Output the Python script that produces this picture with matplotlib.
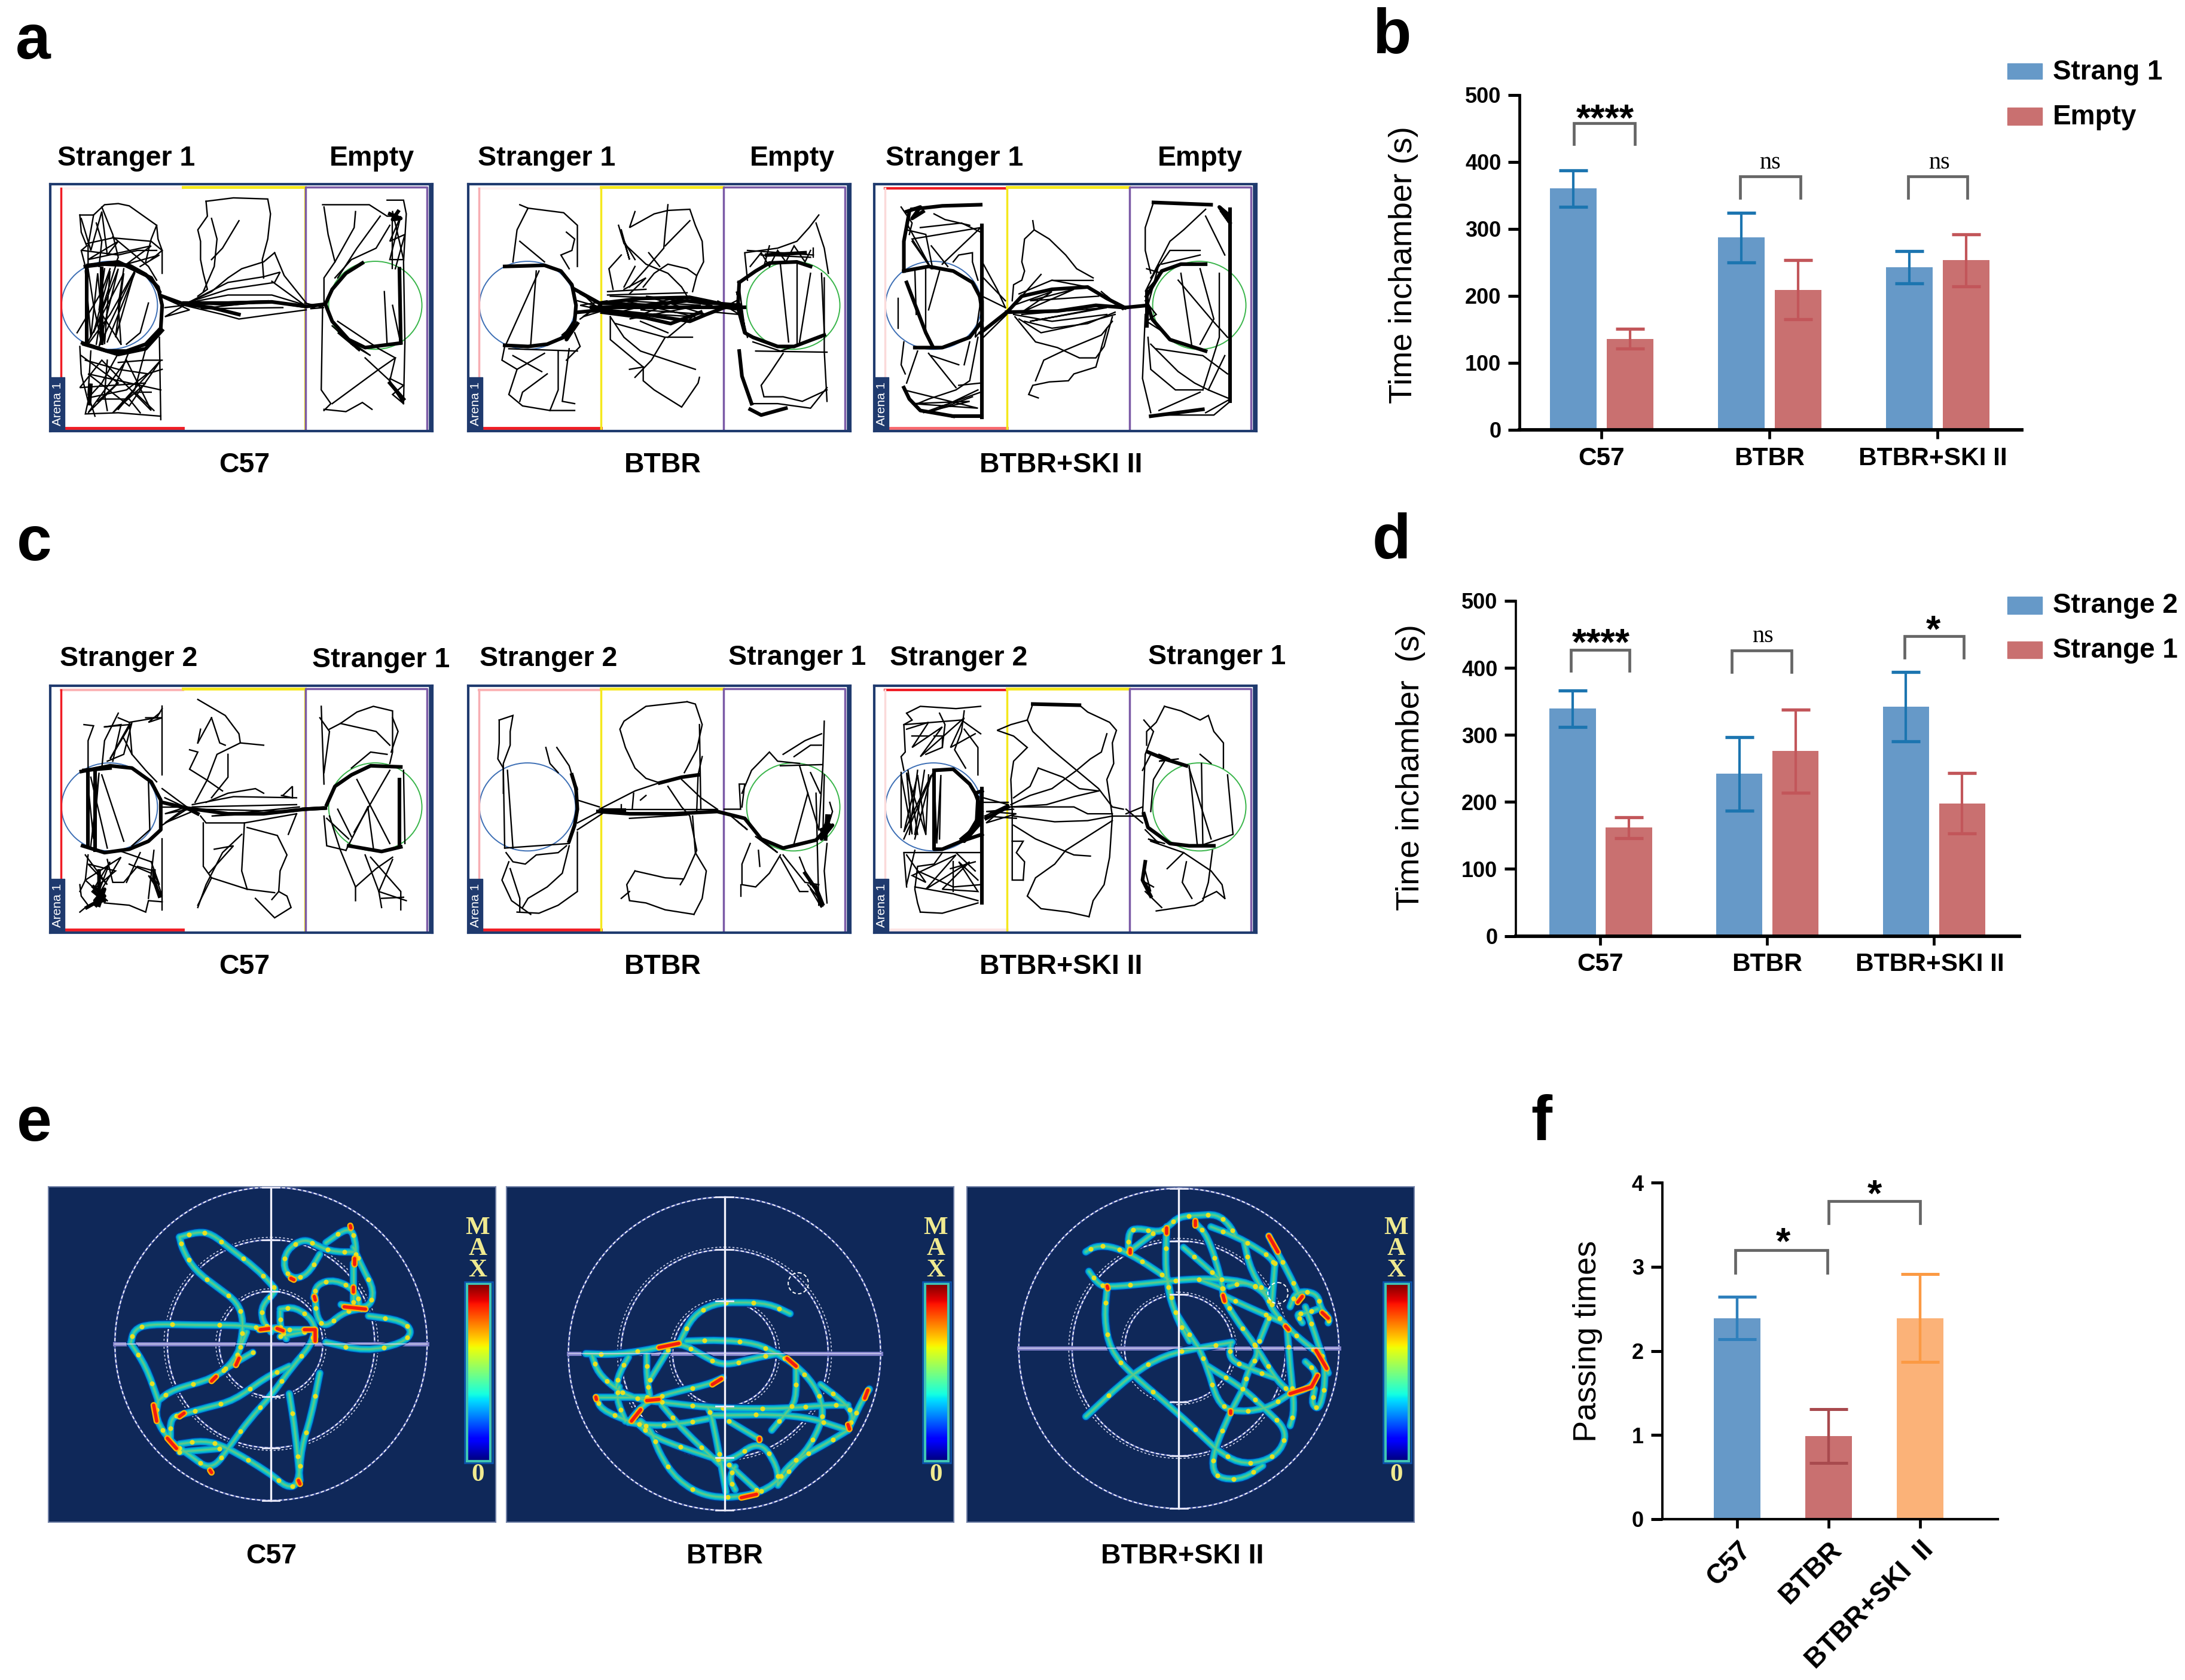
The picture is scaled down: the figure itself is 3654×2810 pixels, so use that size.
"""Three chamber tracks, zero maze heat paths and the bar panels next to them."""
import numpy as np
import matplotlib
matplotlib.use("Agg")
import matplotlib.pyplot as plt
from matplotlib.patches import Ellipse, PathPatch, Rectangle
from matplotlib.path import Path
from matplotlib.transforms import ScaledTranslation

plt.rcParams["font.family"] = ["Liberation Sans", "DejaVu Sans"]

W, H = 3655, 2810

# ---- bar panels
GROUPS = ["C57", "BTBR", "BTBR+SKI II"]
B_BLUE = [360, 287, 243]
B_BLUE_ERR = [27, 37, 24]
B_RED = [136, 209, 253]
B_RED_ERR = [15, 44, 39]
D_BLUE = [339, 242, 342]
D_BLUE_ERR = [27, 55, 52]
D_RED = [161.5, 276, 198]
D_RED_ERR = [16, 62, 45]
F_LABELS = ["C57", "BTBR", "BTBR+SKI  II"]
F_VALUES = [2.39, 0.99, 2.39]
F_ERR = [0.25, 0.32, 0.52]
B_TICKS = [0, 100, 200, 300, 400, 500]
F_TICKS = [0, 1, 2, 3, 4]

# ---- track panels, in arena units (frame is 52..1445 by 230..1310)
A1_THICK = [
    [(180, 590), (250, 580), (340, 585), (400, 625), (445, 680), (460, 760), (455, 860), (400, 930), (330, 960), (260, 960), (170, 925)],
    [(175, 930), (300, 975), (400, 950), (460, 870)], [(190, 585), (300, 570), (420, 640), (450, 700)],
    [(185, 590), (185, 930)], [(240, 600), (240, 925)],
    [(460, 720), (540, 755), (640, 770), (740, 800)], [(540, 750), (700, 750), (860, 745), (985, 765), (1055, 755)],
    [(1055, 755), (1080, 690), (1130, 620), (1190, 575)],
    [(1055, 755), (1080, 830), (1140, 910), (1200, 945), (1330, 925)],
    [(1325, 600), (1330, 920)], [(1290, 1100), (1340, 1170)], [(1290, 360), (1330, 380), (1300, 385), (1320, 350)],
    [(200, 1110), (195, 1190)],
]
A1_THIN = [
    [(160, 365), (210, 365), (250, 320), (300, 315), (340, 325), (440, 410), (445, 470), (460, 520), (460, 620)],
    [(160, 365), (165, 440), (185, 500), (165, 520), (180, 590)], [(210, 365), (190, 500), (190, 590)],
    [(240, 330), (280, 450), (300, 550), (290, 580)], [(185, 490), (280, 465), (420, 480), (460, 520), (420, 560)],
    [(170, 520), (300, 540), (370, 520), (440, 520)], [(280, 460), (340, 520), (410, 590), (440, 650)],
    [(220, 400), (240, 480), (230, 590)], [(440, 410), (420, 470), (400, 570)],
    [(190, 600), (210, 760), (240, 930)], [(250, 600), (230, 780), (310, 930)], [(360, 610), (270, 800), (190, 930)],
    [(290, 590), (240, 780), (220, 930)], [(320, 600), (300, 760), (310, 930)], [(360, 620), (260, 920)],
    [(410, 750), (380, 880), (330, 930)], [(150, 880), (240, 700), (270, 600)],
    [(160, 940), (165, 1060), (190, 1180), (180, 1235), (300, 1230), (455, 1245)], [(200, 960), (190, 1150), (215, 1245)],
    [(300, 970), (240, 1100), (190, 1165)], [(340, 960), (290, 1110), (225, 1180)], [(400, 950), (360, 1130), (300, 1215)],
    [(450, 900), (455, 1260)], [(460, 1040), (405, 1060), (330, 1130), (190, 1165)], [(260, 1000), (250, 1150), (260, 1220)],
    [(180, 1000), (300, 1040), (410, 1060)], [(420, 1140), (360, 1140), (430, 1220)], [(300, 1010), (400, 1000), (460, 1000)],
    [(240, 1170), (340, 1170), (380, 1230)],
    [(620, 305), (720, 290), (845, 295), (855, 360), (845, 470), (825, 560), (830, 640)],
    [(620, 305), (625, 370), (590, 430), (600, 480), (600, 560), (610, 620), (625, 690), (590, 720)],
    [(640, 380), (660, 470), (650, 590), (610, 700)], [(740, 390), (680, 510), (640, 560)],
    [(870, 530), (830, 570), (750, 600), (700, 640), (640, 700), (570, 740)], [(870, 530), (905, 630), (985, 750)],
    [(560, 745), (700, 660), (830, 635), (890, 615), (870, 660), (700, 690), (560, 745)],
    [(550, 750), (700, 715), (860, 715), (985, 760)], [(540, 760), (680, 800), (740, 820), (860, 800), (985, 780)],
    [(560, 750), (700, 760), (850, 745), (985, 770)], [(860, 655), (980, 760)],
    [(1045, 320), (1070, 320), (1215, 320), (1280, 370), (1310, 370)],
    [(1050, 330), (1065, 450), (1090, 570), (1050, 640), (1050, 750)], [(1045, 760), (1040, 1130), (1075, 1190), (1050, 1220)],
    [(1280, 300), (1340, 300), (1350, 360), (1340, 570), (1345, 920), (1340, 1190)], [(1165, 350), (1160, 420), (1090, 570)],
    [(1255, 370), (1170, 510), (1100, 640)], [(1290, 410), (1240, 510), (1150, 560), (1090, 640)], [(1300, 360), (1300, 600)],
    [(1270, 700), (1280, 930)], [(1300, 760), (1330, 930)], [(1080, 1190), (1250, 1040), (1310, 990), (1250, 950), (1100, 830)],
    [(1200, 990), (1290, 1090), (1340, 1190)], [(1050, 1215), (1130, 1225), (1190, 1185), (1225, 1215)], [(1310, 990), (1290, 1090)],
    [(165, 980), (300, 1100), (190, 1230), (330, 1000), (420, 1220), (240, 1000), (160, 1120), (400, 1100), (280, 1230), (455, 1000), (340, 1200), (190, 1060), (455, 1130)],
    [(180, 610), (200, 900), (225, 620), (250, 930), (270, 610), (210, 880), (300, 600), (230, 940), (360, 610), (290, 900), (320, 620), (190, 920)],
    [(165, 380), (200, 520), (240, 350), (260, 540), (300, 480), (190, 560), (420, 500), (330, 580), (450, 540), (380, 590)],
    [(1300, 350), (1340, 560), (1290, 560), (1330, 370), (1290, 480), (1345, 450), (1310, 600)],
    [(1080, 850), (1180, 960), (1100, 880), (1220, 980), (1150, 930)], [(1290, 1080), (1340, 1110), (1300, 1150), (1340, 1190), (1290, 1100)],
    [(470, 730), (560, 780), (470, 810), (540, 760), (470, 770)], [(980, 750), (1050, 770), (1000, 775), (1060, 745)],
    [(590, 750), (850, 740), (600, 775), (900, 770)],
]
A2_THICK = [
    [(185, 590), (330, 585), (390, 610), (430, 670), (445, 760), (440, 830), (400, 900), (340, 930), (270, 940), (185, 935)],
    [(440, 690), (530, 750), (700, 760), (850, 740), (1040, 760)],
    [(455, 790), (540, 780), (700, 800), (860, 830), (920, 800), (985, 770), (1040, 760)],
    [(540, 750), (680, 730), (860, 725), (940, 745), (1040, 770)], [(540, 790), (700, 815), (790, 840), (900, 790)],
    [(500, 770), (1060, 770)],
    [(1040, 660), (1035, 770), (1060, 880), (1090, 900), (1180, 940), (1240, 940), (1350, 890)],
    [(1040, 660), (1100, 610), (1150, 575), (1250, 570), (1300, 590)], [(1040, 960), (1050, 1070), (1085, 1190)],
    [(1080, 1215), (1120, 1240), (1210, 1210)], [(1140, 540), (1280, 530)], [(400, 890), (440, 850), (410, 910), (450, 840)],
]
A2_THIN = [
    [(240, 320), (270, 335), (400, 355), (450, 410), (450, 590)], [(270, 335), (230, 430), (215, 570)], [(240, 480), (330, 570)],
    [(410, 440), (440, 470), (430, 520), (390, 540), (420, 600)], [(300, 610), (280, 930)], [(310, 610), (190, 930)],
    [(185, 940), (175, 1000), (230, 1040), (200, 1150), (250, 1200), (350, 1220), (440, 1220)], [(215, 980), (320, 1050)],
    [(340, 1060), (250, 1140), (240, 1180)], [(380, 960), (380, 1130), (350, 1220)], [(420, 950), (395, 1180), (440, 1190)],
    [(200, 950), (450, 960)], [(330, 970), (230, 1040)], [(440, 880), (460, 940), (410, 1000)],
    [(660, 350), (640, 420), (730, 360), (780, 345), (860, 340), (880, 410), (905, 480), (910, 570), (885, 630), (870, 700)],
    [(780, 320), (770, 440), (765, 510), (700, 600), (640, 680)], [(860, 390), (770, 500)],
    [(600, 410), (620, 490), (700, 580), (780, 620), (830, 680), (850, 720)], [(610, 540), (565, 600), (580, 690)],
    [(660, 590), (620, 680)], [(710, 530), (750, 590)], [(690, 680), (730, 620), (780, 580), (850, 600), (885, 630)],
    [(560, 715), (850, 705)], [(570, 810), (570, 910), (620, 960), (690, 1030)],
    [(570, 810), (620, 900), (680, 960), (830, 1020), (880, 1040)], [(590, 840), (770, 900), (720, 1000), (660, 1075)],
    [(640, 1040), (690, 1030), (690, 1090), (730, 1130), (830, 1205), (890, 1100), (895, 1075)], [(770, 900), (870, 900)],
    [(680, 830), (780, 880)], [(880, 800), (780, 900)], [(460, 700), (540, 790)], [(460, 820), (540, 750)], [(450, 740), (540, 770)],
    [(1330, 365), (1295, 420), (1250, 480), (1180, 510), (1060, 530), (1070, 650)], [(1320, 400), (1350, 510), (1365, 620)],
    [(1120, 540), (1300, 550)], [(1070, 520), (1310, 540)], [(1150, 500), (1130, 590)], [(1190, 580), (1220, 920)],
    [(1250, 580), (1250, 930)], [(1300, 620), (1260, 920)], [(1340, 620), (1350, 880)], [(1350, 640), (1350, 960), (1360, 1180)],
    [(1200, 970), (1150, 1060), (1120, 1110), (1130, 1160), (1200, 1160), (1270, 1180), (1360, 1130)],
    [(1085, 1190), (1180, 1190), (1300, 1210), (1360, 1120)], [(1100, 960), (1360, 965)], [(1310, 510), (1310, 550)],
    [(460, 710), (580, 790), (460, 760), (560, 740), (470, 810), (580, 770)],
    [(570, 720), (800, 730), (600, 790), (880, 810), (620, 740), (900, 760), (640, 820), (860, 720), (680, 780), (920, 800), (700, 720), (940, 760)],
    [(920, 760), (1030, 780), (960, 740), (1040, 800), (950, 790), (1030, 740)], [(1040, 680), (1060, 860), (1030, 700), (1070, 900)],
    [(1080, 590), (1120, 530), (1150, 590), (1180, 520), (1210, 570), (1240, 500), (1280, 570), (1300, 520)], [(1090, 920), (1190, 960), (1340, 900)],
    [(610, 430), (640, 560), (620, 480), (660, 560)], [(620, 690), (700, 640), (640, 710)], [(560, 700), (700, 690)],
]
A3_THICK = [
    [(160, 610), (250, 590), (340, 610), (410, 660), (445, 740), (445, 830), (400, 900), (300, 945), (200, 945)],
    [(445, 410), (445, 1250)], [(170, 660), (240, 880), (265, 940)], [(180, 350), (160, 480), (160, 610)],
    [(190, 340), (300, 325), (440, 320)], [(440, 880), (540, 785), (590, 720), (700, 690), (830, 680), (900, 730), (965, 770)],
    [(535, 790), (720, 785), (860, 760), (965, 770)], [(340, 1245), (445, 1245)], [(160, 1120), (180, 1170), (220, 1220), (340, 1245)],
    [(965, 770), (1050, 760), (1065, 820), (1130, 910), (1260, 960)], [(1045, 720), (1100, 610), (1170, 580), (1260, 580)],
    [(1070, 310), (1280, 320)], [(1060, 1245), (1250, 1215)], [(1350, 340), (1350, 1180)], [(1045, 700), (1045, 850)],
    [(170, 350), (220, 330), (190, 380), (230, 350)], [(1340, 360), (1310, 330), (1350, 400), (1320, 350)],
]
A3_THIN = [
    [(150, 330), (190, 400), (180, 450)], [(200, 600), (205, 800)], [(240, 600), (240, 880)], [(290, 610), (250, 780)],
    [(140, 730), (140, 860)], [(170, 430), (240, 450), (265, 600)], [(220, 420), (370, 400), (440, 440)],
    [(270, 360), (310, 385), (400, 410)], [(340, 570), (360, 540), (410, 530), (410, 570), (430, 650)], [(260, 500), (320, 590)],
    [(190, 480), (260, 600)], [(450, 580), (500, 690), (530, 770)], [(450, 640), (530, 740)], [(445, 720), (530, 770)],
    [(450, 900), (535, 800)], [(160, 920), (150, 1020), (165, 1060)], [(210, 960), (170, 1100)], [(250, 970), (350, 1120)],
    [(260, 980), (360, 1020)], [(400, 920), (380, 1020)], [(430, 900), (400, 1090), (350, 1130), (250, 1170), (210, 1190)],
    [(440, 1100), (360, 1110)], [(430, 1130), (290, 1210)], [(410, 1160), (250, 1230)],
    [(630, 390), (635, 430), (600, 470), (590, 570), (600, 610), (590, 650), (560, 670), (555, 740)],
    [(635, 430), (690, 470), (750, 540), (790, 600), (850, 640)], [(660, 625), (590, 720)], [(700, 650), (850, 650)],
    [(580, 710), (700, 650), (830, 680), (880, 720)], [(565, 810), (640, 920), (720, 945), (800, 990), (860, 990), (890, 940), (920, 810)],
    [(580, 820), (660, 880), (780, 850), (930, 800)], [(600, 830), (700, 860), (830, 840), (930, 790)],
    [(560, 800), (700, 830), (900, 800)], [(900, 860), (860, 1030), (780, 1060), (760, 1090), (690, 1095), (630, 1110), (615, 1150), (650, 1165)],
    [(920, 830), (880, 890), (740, 960), (670, 1000), (640, 1090)],
    [(1070, 310), (1040, 420), (1040, 520), (1060, 620)], [(1260, 340), (1180, 430), (1130, 480), (1070, 620)], [(1260, 370), (1330, 540)],
    [(1240, 520), (1130, 520), (1060, 640)], [(1100, 580), (1240, 540)], [(1170, 620), (1210, 940)], [(1240, 600), (1290, 820), (1240, 930)],
    [(1160, 650), (1280, 820), (1340, 900)], [(1310, 620), (1310, 900), (1250, 1130)], [(1050, 900), (1060, 1040), (1150, 1130), (1250, 1130)],
    [(1060, 930), (1160, 1050), (1220, 1100), (1270, 1130)], [(1040, 800), (1030, 1080), (1060, 1230)], [(1080, 950), (1250, 980), (1340, 1060)],
    [(1330, 980), (1270, 1130), (1350, 1170), (1260, 1230)], [(1060, 1240), (1290, 1240), (1350, 1180)], [(1090, 1220), (1240, 1140)],
    [(170, 400), (260, 600), (190, 470), (440, 420), (300, 580)], [(430, 700), (450, 860), (420, 900), (440, 740)],
    [(1045, 600), (1100, 620), (1040, 700), (1090, 580), (1050, 760)], [(1040, 740), (1080, 800), (1045, 830), (1110, 880)],
    [(560, 760), (700, 700), (590, 790), (780, 690), (620, 740), (870, 720)], [(590, 800), (900, 770), (620, 830), (930, 760)], [(900, 720), (960, 780), (880, 700)],
    [(160, 1130), (430, 1210), (190, 1190), (400, 1180), (230, 1230), (440, 1140)],
]
C1_THICK = [
    [(165, 605), (270, 580), (350, 590), (420, 650), (455, 730), (455, 860), (410, 910), (340, 945), (250, 960), (170, 930)],
    [(190, 600), (190, 930)], [(215, 600), (215, 950)], [(550, 765), (700, 790), (830, 790), (980, 770), (1055, 765)],
    [(460, 740), (550, 765), (590, 790)], [(1060, 750), (1090, 670), (1150, 620), (1220, 580), (1330, 585)],
    [(1140, 930), (1260, 955), (1330, 935)], [(1325, 640), (1325, 930)], [(230, 1040), (230, 1170), (185, 1200)],
    [(210, 1110), (250, 1150), (220, 1190)], [(430, 1040), (430, 1080), (450, 1150)], [(975, 770), (1050, 765)],
    [(210, 1130), (250, 1170), (215, 1170), (250, 1120), (230, 1190)], [(175, 600), (270, 590)],
]
C1_THIN = [
    [(175, 400), (210, 405), (190, 470), (190, 590)], [(300, 350), (250, 470), (240, 590)], [(300, 370), (340, 390), (440, 370), (460, 330)],
    [(460, 320), (460, 620)], [(250, 410), (310, 400), (280, 560)], [(340, 390), (350, 530), (400, 600), (440, 650)], [(320, 460), (350, 530)],
    [(240, 620), (320, 910)], [(200, 630), (260, 940)], [(410, 650), (415, 860), (350, 930)], [(160, 1100), (165, 1150), (190, 1190), (160, 1220)],
    [(190, 970), (180, 1080), (160, 1130)], [(260, 990), (280, 1090), (320, 1090), (370, 1020), (430, 1040)], [(340, 1010), (420, 1050)],
    [(300, 950), (420, 1000)], [(460, 900), (460, 1210)], [(250, 1180), (340, 1190), (400, 1220), (410, 1170), (460, 1175)], [(430, 950), (410, 1160)],
    [(380, 960), (330, 1090)],
    [(590, 290), (640, 325), (690, 360), (740, 440), (745, 480), (830, 490)], [(640, 370), (670, 480), (690, 490)], [(640, 370), (590, 480)],
    [(600, 420), (590, 480)], [(560, 510), (590, 520), (560, 595), (620, 640), (680, 690)], [(745, 480), (660, 530), (625, 640), (580, 740)],
    [(700, 530), (700, 630), (640, 720)], [(620, 740), (700, 700), (800, 680), (830, 700)], [(900, 710), (935, 670), (935, 720), (895, 710)],
    [(460, 680), (550, 760)], [(460, 840), (550, 770)], [(460, 760), (550, 760)], [(570, 750), (720, 715), (950, 720)],
    [(600, 800), (620, 830), (760, 830), (950, 790)], [(610, 830), (610, 1020), (640, 1070), (770, 1120), (870, 1135)],
    [(760, 830), (750, 1040), (770, 1120)], [(770, 850), (880, 885), (915, 970), (890, 1040), (885, 1130), (860, 1165)],
    [(750, 880), (680, 960), (620, 1100), (590, 1200)], [(650, 945), (720, 930), (630, 1050)], [(640, 1070), (590, 1190)],
    [(800, 1160), (870, 1245), (930, 1200), (915, 1150), (885, 1130)], [(950, 790), (920, 880)], [(570, 760), (950, 750)],
    [(1040, 320), (1050, 660)], [(1035, 370), (1070, 430), (1050, 610)], [(1070, 420), (1110, 395), (1170, 345), (1230, 320), (1300, 340), (1300, 520), (1290, 570)],
    [(1110, 395), (1240, 430), (1290, 490)], [(1300, 370), (1320, 430), (1295, 520)], [(1150, 590), (1220, 520), (1280, 530)],
    [(1290, 600), (1160, 870)], [(1170, 640), (1290, 920)], [(1210, 760), (1230, 940)], [(1210, 760), (1130, 950)],
    [(1050, 800), (1060, 930), (1130, 950)], [(1060, 810), (1140, 900)], [(1100, 770), (1150, 890)],
    [(1070, 800), (1110, 950), (1165, 1110), (1165, 1170)], [(1165, 1110), (1240, 1030), (1300, 980)], [(1200, 970), (1250, 1130), (1260, 1200)],
    [(1300, 990), (1250, 1130), (1350, 1170)], [(1220, 980), (1330, 1130), (1330, 1210)], [(1260, 1160), (1340, 1155)], [(1340, 600), (1345, 920)],
    [(180, 970), (260, 1100), (190, 1010), (290, 1040), (210, 1120), (270, 1000), (220, 1160), (310, 980), (180, 1080), (260, 1170)],
    [(185, 610), (210, 900), (230, 610), (200, 930)], [(250, 410), (340, 400), (270, 550), (350, 390), (320, 530), (260, 560)],
    [(400, 370), (460, 370), (410, 390), (450, 350)], [(420, 1000), (450, 1100), (410, 1060), (460, 1150), (430, 1040)],
    [(470, 720), (560, 770), (470, 790), (550, 760), (470, 830), (590, 770)], [(600, 770), (940, 780), (640, 800), (960, 760)],
]
C2_THICK = [
    [(445, 680), (450, 770), (440, 840), (420, 910)], [(430, 620), (445, 680)],
    [(525, 780), (640, 790), (800, 790), (960, 780), (1060, 810), (1120, 900), (1200, 940), (1320, 905), (1370, 840)],
    [(540, 775), (620, 775)], [(750, 655), (830, 630), (890, 620)], [(1360, 800), (1355, 900)], [(1280, 1050), (1320, 1120), (1340, 1190)],
    [(1340, 860), (1380, 840), (1340, 900), (1370, 800), (1340, 880)],
]
C2_THIN = [
    [(165, 380), (215, 360), (205, 430), (205, 490), (180, 570), (180, 700)], [(165, 380), (165, 480), (160, 550), (180, 590)],
    [(180, 590), (185, 940)], [(195, 600), (215, 940)], [(185, 940), (420, 920)], [(335, 500), (350, 570), (380, 610)],
    [(375, 500), (420, 580), (430, 620)], [(450, 730), (530, 760)], [(450, 830), (530, 780)], [(450, 860), (540, 790)],
    [(420, 930), (395, 1050), (340, 1110), (270, 1160), (250, 1200)], [(190, 960), (215, 1000), (260, 1010), (300, 970), (380, 960), (410, 930)],
    [(450, 870), (450, 1130), (380, 1190), (310, 1225), (230, 1220)], [(200, 1000), (175, 1080), (210, 1170), (280, 1230)], [(205, 1030), (240, 1160), (240, 1220)],
    [(530, 770), (660, 690), (760, 650)], [(850, 300), (700, 320), (620, 385), (605, 420), (625, 500), (660, 590), (700, 635), (750, 655)],
    [(850, 300), (880, 310), (905, 400), (885, 510), (840, 610)], [(895, 400), (900, 770)], [(905, 540), (890, 620), (885, 780)],
    [(830, 640), (900, 720), (960, 770)], [(780, 670), (830, 760), (860, 800), (885, 950), (840, 1070), (825, 1100)],
    [(870, 800), (880, 960), (920, 1040), (905, 1160), (875, 1230)], [(660, 1040), (770, 1070), (835, 1075)],
    [(660, 1040), (630, 1100), (640, 1170), (700, 1180), (770, 1210), (875, 1230)], [(610, 1160), (640, 1130)], [(680, 730), (700, 710)],
    [(655, 700), (650, 770)], [(610, 750), (610, 790)], [(620, 770), (960, 770)], [(640, 810), (850, 795)],
    [(985, 770), (1045, 770), (1040, 660), (1060, 660), (1050, 760)], [(1050, 700), (1085, 600), (1150, 520), (1180, 560), (1260, 570)],
    [(1190, 580), (1340, 575)], [(1200, 530), (1280, 470), (1340, 440)], [(1240, 540), (1300, 490), (1340, 490)],
    [(1350, 385), (1345, 580), (1330, 860)], [(1260, 580), (1310, 780), (1330, 860)], [(1290, 700), (1240, 920)], [(1300, 610), (1335, 700)],
    [(1350, 620), (1345, 880)], [(1370, 740), (1380, 780), (1360, 860)], [(1320, 700), (1330, 1190)], [(1360, 920), (1350, 1040), (1360, 1180)],
    [(1110, 950), (1115, 1020)], [(1080, 920), (1050, 1010), (1050, 1100), (1100, 1110), (1150, 1050), (1190, 970)], [(1045, 1100), (1045, 1150)],
    [(1190, 980), (1260, 1130), (1290, 1130)], [(1200, 970), (1280, 1090), (1330, 1100)], [(1260, 980), (1300, 1100)],
    [(1290, 1100), (1350, 1190), (1320, 1100), (1340, 1200), (1300, 1120)], [(1100, 890), (1180, 960), (1120, 900)], [(1010, 800), (1070, 860), (1030, 820)],
]
C3_THICK = [
    [(270, 600), (340, 595), (400, 660), (430, 720), (435, 830), (390, 900), (300, 945), (270, 945), (270, 610)],
    [(445, 680), (445, 1180)], [(430, 720), (425, 830)], [(370, 910), (445, 880)], [(630, 310), (800, 315)], [(460, 810), (540, 760)],
    [(1035, 790), (1050, 850), (1130, 920), (1200, 930), (1290, 930)], [(1040, 1000), (1030, 1080), (1060, 1150)], [(1050, 520), (1110, 550), (1190, 580)],
    [(370, 900), (440, 830), (380, 910), (445, 780), (420, 700), (445, 690)],
]
C3_THIN = [
    [(170, 350), (220, 320), (350, 330), (440, 320)], [(170, 350), (190, 380), (160, 400), (165, 520), (150, 540), (160, 600)],
    [(160, 400), (370, 380), (440, 440)], [(190, 450), (250, 450)], [(270, 450), (300, 450), (300, 500)],
    [(290, 350), (310, 400), (300, 500), (240, 530)], [(380, 340), (370, 430), (345, 510), (385, 590)], [(380, 420), (430, 500), (430, 620)],
    [(150, 610), (150, 850)], [(175, 600), (210, 880)], [(210, 600), (180, 880)], [(235, 600), (200, 880)], [(250, 620), (240, 880)], [(270, 600), (160, 900)],
    [(160, 960), (170, 1110)], [(200, 950), (170, 1100)], [(300, 960), (270, 1010), (210, 1020), (200, 1120), (210, 1180), (220, 1220)],
    [(210, 1040), (340, 1110), (440, 1100)], [(200, 1110), (340, 1140), (430, 1170)], [(350, 960), (420, 1040)], [(330, 1030), (420, 1000)],
    [(160, 960), (440, 960)], [(220, 1220), (300, 1225), (430, 1180)], [(340, 1000), (340, 1130)],
    [(450, 720), (540, 750)], [(450, 740), (540, 740)], [(455, 800), (570, 810)],
    [(630, 310), (610, 380), (550, 400), (500, 425), (560, 450), (610, 500), (560, 560), (550, 640), (555, 780), (555, 1080), (595, 1080)],
    [(800, 315), (830, 345), (910, 390), (935, 425), (920, 480), (925, 570), (900, 640), (920, 800), (910, 980), (890, 1100), (850, 1170), (835, 1240)],
    [(610, 380), (630, 430), (700, 510), (790, 600), (870, 680), (920, 760), (960, 770)],
    [(900, 440), (880, 520), (840, 550), (790, 600), (700, 680), (620, 710), (550, 750)], [(650, 590), (620, 670), (560, 720)],
    [(650, 590), (740, 630), (800, 680), (870, 690)], [(550, 760), (780, 760), (830, 790), (920, 790)], [(550, 760), (680, 750), (780, 715), (870, 690)],
    [(560, 800), (710, 825), (830, 820), (920, 800)], [(560, 840), (640, 900), (780, 970), (840, 975)],
    [(920, 820), (750, 950), (710, 1010), (640, 1070), (610, 1150), (660, 1205), (760, 1220), (835, 1240)],
    [(555, 910), (595, 910), (570, 960), (600, 1000), (595, 1080)],
    [(1110, 320), (1170, 340), (1240, 380), (1270, 360), (1290, 430), (1325, 480), (1325, 590)], [(1110, 320), (1080, 390), (1045, 430), (1045, 490)],
    [(1035, 380), (1070, 430), (1040, 530), (1030, 800)], [(1030, 600), (1060, 530)], [(1110, 560), (1070, 640), (1060, 780)],
    [(1200, 580), (1230, 930)], [(1245, 570), (1250, 930)], [(1200, 590), (1280, 900)], [(1340, 620), (1360, 880), (1240, 930)], [(1240, 530), (1280, 570)],
    [(1030, 760), (970, 790)], [(970, 770), (1030, 830)], [(1060, 910), (1180, 960), (1280, 1040), (1320, 1100), (1330, 1160)], [(1180, 960), (1120, 1030)],
    [(1190, 1000), (1175, 1090), (1210, 1160)], [(1285, 950), (1270, 1090), (1250, 1170), (1220, 1190), (1080, 1215)], [(1040, 1130), (1100, 1200)],
    [(1250, 1160), (1300, 1130), (1330, 1160)], [(920, 800), (1030, 800)],
    [(150, 620), (190, 880), (170, 610), (240, 880), (210, 620), (160, 870), (260, 620), (200, 900)], [(270, 610), (280, 920), (295, 620), (290, 900)],
    [(170, 420), (250, 390), (190, 500), (300, 410), (220, 540), (380, 370), (330, 500), (420, 440)],
    [(170, 970), (240, 1090), (190, 1060), (350, 970), (240, 1120), (400, 1000), (300, 1120), (430, 1130), (360, 1000), (430, 1080)],
    [(455, 800), (540, 750), (460, 830), (570, 790), (460, 780), (560, 770)], [(1090, 530), (1130, 550), (1090, 560), (1160, 550)],
    [(1040, 1040), (1060, 1130), (1040, 1090), (1070, 1110)], [(1040, 860), (1090, 920), (1050, 900), (1110, 920)],
]

# ---- heat paths, in plot units (frame is 40..1507 by 65..1532)
E1_PATHS = [
    [(470, 285), (530, 262), (575, 270), (640, 340), (720, 420), (770, 490), (790, 520), (740, 580), (740, 650), (770, 700)],
    [(470, 285), (480, 340), (520, 430), (600, 510), (660, 570), (680, 650), (670, 760), (650, 840)],
    [(310, 750), (320, 690), (370, 665), (520, 670), (680, 670), (760, 690), (900, 690)], [(310, 750), (360, 850), (400, 1000)],
    [(400, 1000), (390, 1080), (440, 1180), (500, 1235), (575, 1310), (640, 1190), (700, 1080), (770, 980), (840, 850), (900, 760), (915, 690)],
    [(400, 1000), (450, 950), (580, 905), (650, 830), (690, 700)], [(480, 1060), (560, 1030), (650, 1000), (750, 900), (830, 850)], [(480, 1060), (440, 1075), (440, 1170)],
    [(470, 1190), (550, 1175), (620, 1200), (770, 1320), (820, 1380), (860, 1370), (870, 1200), (900, 1080), (930, 880)], [(470, 1225), (600, 1210)],
    [(830, 970), (850, 1140), (865, 1350)], [(620, 860), (710, 790)], [(800, 600), (850, 590), (910, 650), (915, 720)], [(800, 610), (800, 680), (820, 730)],
    [(910, 550), (920, 490), (980, 470), (1050, 520), (1060, 590)], [(915, 550), (920, 640), (950, 680), (1000, 620), (1050, 600), (1080, 600)],
    [(1000, 580), (1090, 600), (1110, 520), (1070, 420), (1040, 330)], [(1040, 400), (1040, 570)],
    [(1040, 350), (980, 350), (930, 330), (880, 290), (820, 340), (810, 420), (840, 470), (890, 450), (930, 360)], [(950, 310), (1030, 235), (1050, 320), (1045, 400)],
    [(1090, 630), (1200, 650), (1235, 700), (1200, 750), (1080, 785), (950, 745)], [(800, 720), (880, 700)], [(730, 690), (800, 680)],
]
E1_HOT = [
    [(880, 690), (915, 690), (915, 740)], [(385, 1020), (395, 1090)], [(1010, 590), (1080, 600)], [(430, 1165), (460, 1210)], [(735, 690), (765, 685)],
    [(655, 845), (665, 815)], [(575, 915), (590, 895)], [(470, 1070), (485, 1055)], [(1045, 380), (1045, 405)], [(1040, 505), (1040, 525)],
    [(570, 1305), (575, 1315)], [(860, 1350), (865, 1365)], [(835, 465), (845, 472)], [(1030, 235), (1032, 245)], [(912, 545), (915, 560)], [(790, 685), (810, 695)],
]
E2_PATHS = [
    [(970, 620), (900, 575), (800, 570), (720, 575), (650, 630), (610, 740)],
    [(630, 740), (750, 735), (860, 750), (920, 790), (985, 840), (1050, 930), (1080, 1030), (1070, 1110), (1020, 1230), (960, 1290), (920, 1370), (830, 1420), (700, 1425), (600, 1350), (540, 1230), (515, 1130), (480, 1090)],
    [(300, 795), (400, 800), (540, 770), (610, 745), (680, 800), (750, 850), (850, 815), (930, 795)], [(320, 800), (340, 880), (400, 950), (440, 980), (500, 1000)],
    [(500, 800), (500, 900), (510, 980)], [(570, 780), (510, 910)], [(410, 940), (400, 990), (430, 1090)], [(440, 810), (410, 880), (400, 940)], [(335, 985), (500, 985)],
    [(335, 985), (350, 1040), (440, 1090)], [(440, 1095), (500, 1000), (600, 960), (700, 930), (750, 900)],
    [(500, 1000), (600, 1015), (700, 1030), (800, 1035), (960, 1035), (1080, 1020), (1160, 1020)], [(700, 1030), (715, 1070), (760, 1400)],
    [(715, 1065), (1000, 1060), (1160, 1130)], [(440, 1095), (510, 1110), (600, 1105), (700, 1080)], [(550, 1020), (620, 1130), (740, 1280)],
    [(470, 1100), (520, 1160), (700, 1245), (770, 1270), (870, 1170), (930, 1290), (930, 1370)], [(770, 1090), (870, 1170)], [(990, 860), (990, 1000), (960, 1050), (910, 1130)],
    [(1070, 930), (1150, 1010), (1180, 1070), (1160, 1120)], [(1165, 1115), (1210, 990), (1230, 950)], [(1160, 1130), (1060, 1210), (1000, 1250), (930, 1370)],
    [(770, 1280), (860, 1390)], [(790, 1290), (770, 1340), (790, 1390)],
]
E2_HOT = [
    [(1225, 955), (1215, 990)], [(1160, 1105), (1165, 1125)], [(500, 1000), (540, 995)], [(450, 1090), (480, 1040)], [(715, 930), (745, 905)], [(540, 768), (605, 750)],
    [(960, 815), (990, 850)], [(810, 1425), (860, 1410)], [(333, 985), (335, 995)], [(870, 1165), (870, 1175)],
]
E3_PATHS = [
    [(430, 350), (460, 325), (510, 325), (570, 355), (660, 430), (700, 470)],
    [(440, 435), (470, 490), (500, 505), (650, 485), (800, 465), (950, 475), (1020, 530), (1040, 600), (1090, 680), (1150, 750), (1200, 800), (1225, 880)],
    [(500, 505), (490, 640), (510, 780), (580, 885), (720, 1040), (860, 1215)],
    [(570, 350), (570, 260), (600, 245), (670, 265), (700, 240), (735, 195), (800, 190), (860, 185), (900, 230), (920, 280)], [(570, 350), (650, 270)],
    [(695, 240), (690, 430), (710, 580), (740, 650), (800, 770)], [(700, 480), (720, 620), (770, 740)],
    [(790, 225), (830, 280), (875, 470), (880, 550), (920, 640), (970, 730), (995, 780), (1060, 920), (1110, 970)], [(750, 330), (820, 410), (870, 470)],
    [(840, 240), (920, 280), (1000, 340), (1040, 380), (1050, 410)], [(950, 310), (970, 430), (1040, 580)], [(1030, 280), (1060, 360), (1090, 430), (1130, 540)],
    [(1050, 400), (1040, 580)], [(880, 540), (960, 590), (1080, 660)], [(430, 1070), (580, 885), (690, 800), (800, 770), (910, 745)],
    [(800, 770), (830, 860), (860, 1000), (905, 1050), (1020, 1040), (1100, 970)], [(830, 850), (950, 950), (1020, 1040), (1090, 1130), (1070, 1220), (1010, 1270), (930, 1275), (860, 1215)],
    [(905, 1050), (850, 1215), (845, 1310), (880, 1345), (950, 1340), (1010, 1285)], [(945, 950), (905, 1050)], [(970, 730), (1000, 790), (965, 860), (945, 950)],
    [(905, 750), (900, 820), (965, 860), (1050, 900)], [(1030, 640), (1000, 740)], [(1100, 590), (1120, 520), (1190, 530), (1200, 600), (1230, 640), (1225, 660)],
    [(1150, 590), (1190, 740), (1220, 870), (1200, 1040), (1170, 1020), (1180, 950)], [(1090, 680), (1100, 850), (1115, 1040), (1100, 1110)],
    [(1190, 600), (1150, 620), (1120, 620), (1140, 660)], [(1110, 970), (1170, 940), (1190, 880), (1150, 830)], [(1020, 520), (950, 480), (900, 500)], [(880, 510), (800, 470)],
]
E3_HOT = [
    [(1100, 970), (1170, 940), (1190, 890)], [(1185, 780), (1220, 860)], [(1030, 280), (1060, 350)], [(1085, 675), (1095, 690)], [(1140, 545), (1125, 570)],
    [(790, 215), (790, 235)], [(575, 340), (575, 355)], [(500, 500), (502, 510)], [(880, 540), (885, 565)], [(905, 1045), (905, 1055)], [(1205, 615), (1225, 640)], [(695, 245), (695, 270)],
]

COLORBAR_LEVELS = np.linspace(1, 0, 256).reshape(-1, 1)


def pixel_axes(fig, x0, y_top, x1, y_bottom, **kw):
    return fig.add_axes([x0 / W, 1 - y_bottom / H, (x1 - x0) / W, (y_bottom - y_top) / H], **kw)


def smooth_path(points):
    """Quadratic bezier through the midpoints, so the read points give a round line."""
    pts = np.asarray(points, dtype=float)
    if len(pts) < 3:
        return Path(pts), pts
    mids = (pts[:-1] + pts[1:]) / 2
    verts, codes = [pts[0], mids[0]], [Path.MOVETO, Path.LINETO]
    for ctrl, end in zip(pts[1:-1], mids[1:]):
        verts += [ctrl, end]
        codes += [Path.CURVE3, Path.CURVE3]
    verts.append(pts[-1])
    codes.append(Path.LINETO)
    return Path(verts, codes), mids


def draw_tracks(ax, thick, thin, top_red, left_red, bottom_red, yellow_x, top_yellow="#f5e81c"):
    ax.set_xlim(52, 1445)
    ax.set_ylim(1310, 230)
    ax.set_xticks([])
    ax.set_yticks([])
    for s in ax.spines.values():
        s.set_color("#1f3a6e")
        s.set_linewidth(3)
    # chamber outlines
    ax.plot([92, 535], [248, 248], color=top_red, lw=3)
    ax.plot([92, 92], [248, 1075], color=left_red, lw=2.5)
    ax.plot([105, 535], [1298, 1298], color=bottom_red, lw=3.5)
    ax.plot([535, 980], [244, 244], color=top_yellow, lw=3.5)
    ax.plot([yellow_x, yellow_x], [244, 1300], color="#f5e81c", lw=2.5)
    ax.plot([983, 983, 1425, 1425], [1300, 244, 244, 1300], color="#7b5aa6", lw=2.5)
    ax.plot([1438, 1438], [235, 1305], color="#1f3a6e", lw=4)
    ax.add_patch(Ellipse((268, 760), 350, 385, fill=False, ec="#3d6fb5", lw=1.4))
    ax.add_patch(Ellipse((1237, 760), 340, 385, fill=False, ec="#39b54a", lw=1.4))
    ax.add_patch(Rectangle((55, 1075), 50, 235, color="#1f3a6e", zorder=4))
    ax.text(80, 1192, "Arena 1", color="white", fontsize=15, rotation=90,
            ha="center", va="center", zorder=5)
    for path in thin:
        xs, ys = zip(*path)
        ax.plot(xs, ys, color="black", lw=1.7, solid_joinstyle="miter", zorder=3)
    for path in thick:
        xs, ys = zip(*path)
        ax.plot(xs, ys, color="black", lw=4.4, solid_joinstyle="round", zorder=3)


def draw_heat(ax, cx, cy, outer, middle, inner, paths, hot, small=None):
    ax.set_facecolor("#0f2859")
    ax.set_xticks([])
    ax.set_yticks([])
    for s in ax.spines.values():
        s.set_color("#6f7fa5")
        s.set_linewidth(1.5)
    # maze rings and cross under the paths
    for rx, ry, double in [(*outer, False), (*middle, True), (*inner, True)]:
        ax.add_patch(Ellipse((cx, cy), 2 * rx, 2 * ry, fill=False, ec="#4a5aa8", lw=2.2, zorder=1))
        ax.add_patch(Ellipse((cx, cy), 2 * rx, 2 * ry, fill=False, ec="white", lw=1.3, ls=(0, (3, 2)), zorder=1))
        if double:
            ax.add_patch(Ellipse((cx, cy), 2 * rx + 22, 2 * ry + 22, fill=False, ec="#c9cde8", lw=1.2, ls=(0, (2, 2)), zorder=1))
    ax.plot([cx - outer[0], cx + outer[0]], [cy, cy], color="#7f7fc8", lw=5, zorder=1.5)
    smoothed = [smooth_path(p) for p in paths]
    layers = [(11, "#02307f"), (8.5, "#0094d8"), (5.5, "#12c6c0"), (2.2, "#5cc98a")]
    for k, (lw, col) in enumerate(layers):
        for curve, _ in smoothed:
            ax.add_patch(PathPatch(curve, fill=False, ec=col, lw=lw, capstyle="round",
                                   joinstyle="round", zorder=2 + k * 0.1))
    for _, mids in smoothed:
        ax.scatter(mids[:, 0], mids[:, 1], s=34, color="#e8e020", lw=0, zorder=2.5)
    for lw, col, z in [(7.5, "#ffb000", 2.6), (4, "#f21a10", 2.7)]:
        for path in hot:
            xs, ys = zip(*path)
            ax.plot(xs, ys, color=col, lw=lw, solid_capstyle="round", solid_joinstyle="round", zorder=z)
    ax.plot([cx, cx], [cy - outer[1], cy + outer[1]], color="#f2f2fb", lw=2.4, zorder=3)
    ax.plot([cx - outer[0], cx + outer[0]], [cy, cy], color="#d8d8f2", lw=1.6, alpha=0.7, zorder=3)
    for yy in [cy - inner[1], cy + inner[1], cy - middle[1], cy + middle[1], cy - outer[1], cy + outer[1]]:
        ax.plot([cx - 28, cx + 28], [yy, yy], color="#e8e8f8", lw=2, zorder=3)
    if small is not None:
        ax.add_patch(Ellipse(small, 66, 92, fill=False, ec="white", lw=1.4, ls=(0, (3, 2)), zorder=3))
    # colour scale on the right
    ax.imshow(COLORBAR_LEVELS, cmap="jet", vmin=0, vmax=1, aspect="auto",
              extent=(1415, 1487, 1262, 492), zorder=3, interpolation="bilinear")
    ax.add_patch(Rectangle((1412, 488), 78, 778, fill=False, ec="#3fc4b4", lw=3, zorder=4))
    ax.add_patch(Rectangle((1405, 480), 92, 794, fill=False, ec="#0a55b0", lw=1.8, zorder=4))
    ax.set_xlim(40, 1507)
    ax.set_ylim(1532, 65)
    for txt, yy in [("M", 245), ("A", 338), ("X", 430), ("0", 1325)]:
        ax.text(1448, yy, txt, color="#f0ea90", fontsize=31, fontweight="bold",
                family="Liberation Serif", ha="center", va="center", zorder=5)


def style_bars(ax, yticks, ylim, ticklabels, lw_y=3.4, lw_x=4.2):
    ax.set_ylim(*ylim)
    ax.set_yticks(yticks)
    ax.set_xticks(range(len(ticklabels)))
    ax.set_xticklabels(ticklabels)
    ax.spines["top"].set_visible(False)
    ax.spines["right"].set_visible(False)
    ax.spines["left"].set_linewidth(lw_y)
    ax.spines["bottom"].set_linewidth(lw_x)
    ax.patch.set_alpha(0)
    ax.tick_params(axis="y", length=14, width=3.6, labelsize=26, pad=8)
    ax.tick_params(axis="x", length=11, width=3.4, labelsize=30.5, pad=9)
    for lab in ax.get_xticklabels() + ax.get_yticklabels():
        lab.set_fontweight("bold")


def bracket(ax, x0, x1, y_top, y_bottom):
    ax.plot([x0, x0, x1, x1], [y_bottom, y_top, y_top, y_bottom], color="#666666",
            lw=3.4, solid_joinstyle="miter", clip_on=False)


def grouped_bars(ax, blue, blue_err, red, red_err):
    x = np.arange(len(GROUPS))
    ax.bar(x - 0.167, blue, 0.278, color="#6699c8")
    ax.bar(x + 0.17, red, 0.278, color="#c97070")
    ax.errorbar(x - 0.167, blue, yerr=blue_err, fmt="none", ecolor="#1c75b0", elinewidth=3, capsize=17, capthick=3.8)
    ax.errorbar(x + 0.17, red, yerr=red_err, fmt="none", ecolor="#c2565a", elinewidth=3, capsize=17, capthick=3.8)


def nudge_label(ax, idx, fig, px):
    lab = ax.get_xticklabels()[idx]
    lab.set_transform(lab.get_transform() + ScaledTranslation(px / 100, 0, fig.dpi_scale_trans))


fig = plt.figure(figsize=(W / 100, H / 100), dpi=100, facecolor="white")

# a, c: track plots
ARENA_X = [(84, 723), (783, 1422), (1462, 2101)]
a_style = [("#fff2f2", "#f01c24", "#f01c24", 980), ("#fff0f0", "#f7aeb2", "#f01c24", 535), ("#f01c24", "#fbdada", "#f8696e", 535)]
c_style = [("#fbb4b6", "#f01c24", "#f01c24", 980), ("#fbb4b6", "#f7aeb2", "#f01c24", 535), ("#f01c24", "#fbdada", "#fde4e4", 535)]
a_tracks = [(A1_THICK, A1_THIN), (A2_THICK, A2_THIN), (A3_THICK, A3_THIN)]
c_tracks = [(C1_THICK, C1_THIN), (C2_THICK, C2_THIN), (C3_THICK, C3_THIN)]
for (x0, x1), st, tr in zip(ARENA_X, a_style, a_tracks):
    draw_tracks(pixel_axes(fig, x0, 308, x1, 721), tr[0], tr[1], *st)
for (x0, x1), st, tr in zip(ARENA_X, c_style, c_tracks):
    draw_tracks(pixel_axes(fig, x0, 1147, x1, 1560), tr[0], tr[1], *st)

# e: heat paths
draw_heat(pixel_axes(fig, 81, 1985, 829, 2546), 770, 752, (512, 685), (340, 455), (170, 230), E1_PATHS, E1_HOT)
draw_heat(pixel_axes(fig, 847, 1985, 1595, 2546), 755, 795, (512, 685), (340, 455), (170, 230), E2_PATHS, E2_HOT, small=(997, 487))
draw_heat(pixel_axes(fig, 1617, 1985, 2365, 2546), 735, 772, (525, 700), (350, 470), (178, 235), E3_PATHS, E3_HOT, small=(1060, 530))

# b
ax_b = pixel_axes(fig, 2541, 158.5, 3381, 719)
grouped_bars(ax_b, B_BLUE, B_BLUE_ERR, B_RED, B_RED_ERR)
ax_b.set_xlim(-0.4875, 2.502)
style_bars(ax_b, B_TICKS, (0, 500), GROUPS)
nudge_label(ax_b, 2, fig, -8)
bracket(ax_b, -0.163, 0.198, 458, 426)
bracket(ax_b, 0.824, 1.185, 378, 346)
bracket(ax_b, 1.827, 2.179, 378, 346)

# d
ax_d = pixel_axes(fig, 2535, 1005, 3377, 1565.5)
grouped_bars(ax_d, D_BLUE, D_BLUE_ERR, D_RED, D_RED_ERR)
ax_d.set_xlim(-0.5076, 2.513)
style_bars(ax_d, B_TICKS, (0, 500), GROUPS, lw_y=2.6)
nudge_label(ax_d, 2, fig, -7)
bracket(ax_d, -0.178, 0.174, 427, 396)
bracket(ax_d, 0.788, 1.147, 426, 393.5)
bracket(ax_d, 1.824, 2.18, 447, 415.5)

# f
ax_f = pixel_axes(fig, 2779.6, 1978, 3341, 2541)
f_x = np.arange(3)
ax_f.bar(f_x, F_VALUES, 0.513, color=["#6699c8", "#c97070", "#fbb278"])
for xi, v, e, col in zip(f_x, F_VALUES, F_ERR, ["#2f80bc", "#a84a4e", "#fb9a44"]):
    ax_f.errorbar(xi, v, yerr=e, fmt="none", ecolor=col, elinewidth=3.2, capsize=23, capthick=3.6)
ax_f.set_xlim(-0.82, 2.85)
style_bars(ax_f, F_TICKS, (0, 4), F_LABELS, lw_y=2.8, lw_x=3)
ax_f.tick_params(axis="x", labelsize=33, pad=10)
for lab in ax_f.get_xticklabels():
    lab.set_rotation(45)
    lab.set_ha("right")
    lab.set_rotation_mode("anchor")
bracket(ax_f, -0.017, 0.985, 3.2, 2.93)
bracket(ax_f, 1.0, 2.0, 3.78, 3.52)

# overlay in picture pixels for the labels
bg = fig.add_axes([0, 0, 1, 1], zorder=10)
bg.set_xlim(0, W)
bg.set_ylim(H, 0)
bg.axis("off")
bg.patch.set_alpha(0)

for letter, x, y in [("a", 26, 98), ("b", 2295, 89), ("c", 28, 937), ("d", 2295, 934), ("e", 28, 1908), ("f", 2560, 1906)]:
    bg.text(x, y, letter, fontsize=76, fontweight="bold", ha="left", va="baseline")

for txt, x, y in [("Stranger 1", 96, 277), ("Empty", 551, 277), ("Stranger 1", 799, 277), ("Empty", 1254, 277),
                  ("Stranger 1", 1481, 277), ("Empty", 1936, 277), ("Stranger 2", 100, 1114), ("Stranger 1", 522, 1116),
                  ("Stranger 2", 802, 1114), ("Stranger 1", 1218, 1112), ("Stranger 2", 1488, 1113), ("Stranger 1", 1920, 1111)]:
    bg.text(x, y, txt, fontsize=33.5, fontweight="bold", ha="left", va="baseline")

for txt, x, y in [("C57", 409, 790), ("BTBR", 1108, 790), ("BTBR+SKI II", 1774, 790), ("C57", 409, 1629), ("BTBR", 1108, 1629),
                  ("BTBR+SKI II", 1774, 1629), ("C57", 454, 2615), ("BTBR", 1212, 2615), ("BTBR+SKI II", 1977, 2615)]:
    bg.text(x, y, txt, fontsize=33.5, fontweight="bold", ha="center", va="baseline")

bg.text(2347, 443, "Time inchamber (s)", fontsize=39, rotation=90, ha="center", va="center")
bg.text(2359, 1284, "Time inchamber  (s)", fontsize=39, rotation=90, ha="center", va="center")
bg.text(2655, 2243, "Passing times", fontsize=39, rotation=90, ha="center", va="center")

for txt, x, y in [("****", 2684, 217), ("****", 2677, 1094), ("*", 3233, 1072), ("*", 2982, 2096), ("*", 3135, 2016)]:
    bg.text(x, y, txt, fontsize=45, fontweight="bold", ha="center", va="baseline")
for x, y in [(2960, 282), (3243, 282), (2948, 1074)]:
    bg.text(x, y, "ns", fontsize=29, family="Liberation Serif", ha="center", va="baseline")

for label, col, y0, y1, base in [("Strang 1", "#6699c8", 106, 132, 133), ("Empty", "#c97070", 180, 209, 208),
                                 ("Strange 2", "#6699c8", 998, 1027, 1025), ("Strange 1", "#c97070", 1073, 1101, 1100)]:
    bg.add_patch(Rectangle((3357, y0), 58, y1 - y0, color=col))
    bg.text(3433, base, label, fontsize=33, fontweight="bold", ha="left", va="baseline")

fig.savefig("out.png", dpi=100)
